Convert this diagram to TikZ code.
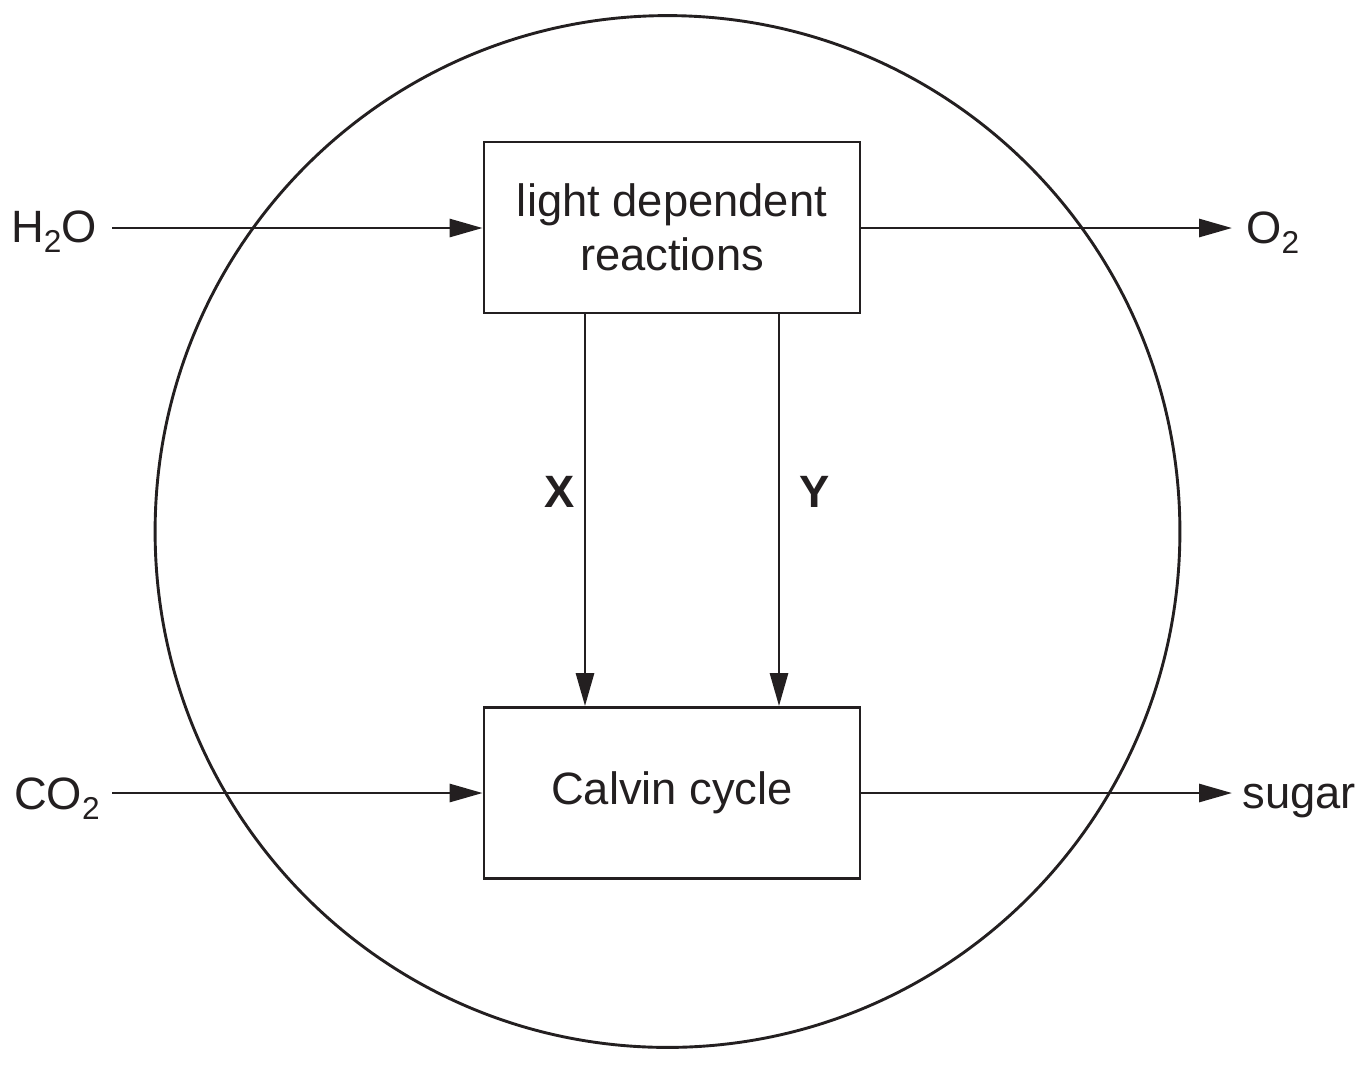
\documentclass[tikz,border=0pt]{standalone}
\usepackage{fontspec}
\setmainfont{Liberation Sans}
\usetikzlibrary{arrows.meta}
\definecolor{ink}{HTML}{231F20}
\newcommand{\subtwo}{\raisebox{-6.2pt}{\fontsize{18pt}{18pt}\selectfont 2}}
\begin{document}
\begin{tikzpicture}[x=0.02cm,y=-0.02cm,
  every node/.style={text=ink},
  line/.style={draw=ink,line width=1.65pt},
  arr/.style={line,-{Triangle[length=0.66cm,width=0.36cm]}},
  procbox/.style={draw=ink,line width=1.65pt,minimum width=7.52cm,minimum height=3.42cm,inner sep=0pt,align=center,
    font=\fontsize{25.8pt}{30.8pt}\selectfont},
  lbl/.style={inner sep=0pt,font=\fontsize{25.8pt}{30.8pt}\selectfont}]
\useasboundingbox (0,0) rectangle (1372,1066);
\draw[line] (667.5,531.5) ellipse [x radius=10.25cm, y radius=10.32cm];
\node[procbox] (ldr) at (672,227.5) {light dependent\\reactions};
\node[procbox] (cc) at (672,793) {Calvin cycle};
\node[lbl,anchor=base east] (h2o) at (97,242) {H\subtwo O};
\node[lbl,anchor=base west] (o2) at (1246,243) {O\subtwo};
\node[lbl,anchor=base east] (co2) at (100,809) {CO\subtwo};
\node[lbl,anchor=base west] (sugar) at (1242,808) {sugar};
\coordinate (h2oe) at (112,228);
\coordinate (o2w) at (1232,228);
\coordinate (co2e) at (112,793);
\coordinate (sugw) at (1232,793);
\coordinate (xa) at (585,0);
\coordinate (ya) at (779,0);
\draw[arr] (h2oe) -- (h2oe -| ldr.west);
\draw[arr] (o2w -| ldr.east) -- (o2w);
\draw[arr] (co2e) -- (co2e -| cc.west);
\draw[arr] (sugw -| cc.east) -- (sugw);
\draw[arr] (xa |- ldr.south) -- (xa |- cc.north);
\draw[arr] (ya |- ldr.south) -- (ya |- cc.north);
\node[lbl,font=\fontsize{25.8pt}{30.8pt}\selectfont\bfseries] (xl) at (560,492) {X};
\node[lbl,font=\fontsize{25.8pt}{30.8pt}\selectfont\bfseries] (yl) at (815,492) {Y};
\end{tikzpicture}
\end{document}
